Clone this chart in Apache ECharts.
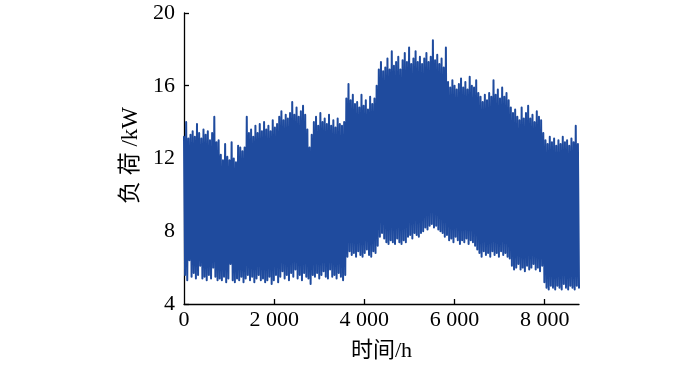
<!DOCTYPE html>
<html>
<head>
<meta charset="utf-8">
<script src="https://cdn.jsdelivr.net/npm/echarts@6/dist/echarts.min.js"></script>
<style>
html,body{margin:0;padding:0;background:#fff;}
#chart{width:700px;height:367px;}
</style>
</head>
<body>
<div id="chart"></div>
<script>
// Hour spacing between successive daily-peak readings (peak at 48*i h, trough at 48*i+24 h)
var hourStep = 48;
// Upper envelope (peak loads, kW)
var highs = [
13.2,14.0,13.1,13.3,13.5,13.2,13.9,13.4,13.1,13.6,
13.3,13.5,13.0,13.4,14.3,12.9,13.0,12.2,11.9,12.8,
12.1,11.9,12.9,12.0,11.8,12.7,12.6,12.4,12.6,14.3,
13.4,13.6,13.2,13.8,13.4,13.9,13.5,14.0,13.6,13.8,
13.5,14.1,13.7,13.9,14.3,14.6,14.1,14.4,14.2,14.5,
15.1,14.4,14.8,14.3,14.6,14.9,14.4,13.6,12.6,13.3,
14.0,14.3,13.8,14.5,14.0,14.2,13.9,14.4,13.8,14.1,
13.7,14.2,13.9,13.8,14.0,15.3,16.1,15.2,15.5,15.0,
15.1,14.8,15.5,14.9,15.2,14.7,15.4,15.0,15.3,16.0,
16.9,17.3,16.8,17.0,17.5,16.9,17.9,17.1,17.3,17.6,
16.9,17.4,17.8,17.3,18.1,17.2,17.5,17.9,17.3,17.6,
17.2,17.5,17.8,17.3,17.6,18.5,17.4,17.7,17.2,17.5,
17.0,18.1,16.2,15.9,16.3,16.0,15.8,16.1,16.4,15.9,
16.2,15.8,16.5,16.0,15.9,16.3,15.6,15.4,15.1,15.5,
15.2,15.6,15.4,16.3,15.5,15.8,15.3,15.9,15.4,15.6,
15.2,14.8,14.5,14.7,14.3,14.1,14.8,14.2,14.5,14.9,
14.2,14.4,14.0,14.6,14.3,14.1,13.4,13.0,12.8,13.2,
12.9,13.1,12.7,13.0,12.8,13.2,12.9,13.0,12.7,13.1,
12.9,13.8,12.8
];
// Lower envelope (trough loads, kW)
var lows = [
5.6,5.3,6.4,5.5,5.7,5.4,5.6,6.1,5.4,5.5,
5.3,5.6,5.4,6.0,5.5,5.3,5.4,5.3,5.5,5.2,
5.4,6.2,5.3,5.2,5.4,5.3,5.5,5.2,5.4,5.6,
5.3,5.5,5.2,5.4,5.6,5.3,5.4,5.2,5.3,5.5,
5.1,5.3,5.6,5.2,5.5,5.8,5.4,5.6,5.3,5.7,
5.5,5.9,5.4,5.6,5.3,5.7,5.5,5.4,5.1,5.6,
5.5,5.7,5.4,5.6,5.8,5.5,5.4,5.9,5.5,5.6,
5.4,5.7,5.5,5.3,5.6,6.6,6.9,6.7,6.8,6.6,
6.9,6.7,6.6,6.8,7.0,6.7,6.6,6.9,6.8,7.2,
7.7,7.9,7.6,7.4,7.3,7.5,7.4,7.3,7.6,7.4,
7.3,7.5,7.4,7.7,7.8,7.6,7.9,7.8,7.7,7.9,
8.0,8.2,8.1,8.3,8.4,8.2,8.3,8.1,8.0,7.9,
7.7,7.8,7.5,7.6,7.4,7.7,7.5,7.3,7.5,7.4,
7.6,7.3,7.5,7.4,7.2,7.0,6.8,6.6,6.9,6.7,
6.8,6.6,6.9,6.7,6.8,6.6,6.9,6.7,6.8,6.6,
6.5,6.1,5.9,6.0,6.2,5.9,6.0,5.8,6.1,5.9,
6.0,6.2,5.9,6.0,5.8,6.1,5.2,4.9,4.8,5.0,
4.9,4.8,5.0,4.9,4.8,5.1,4.9,4.8,5.0,4.9,
4.8,5.0,4.9
];
var xTicks = [0, 2000, 4000, 6000, 8000];
var yTicks = [4, 8, 12, 16, 20];

var data = [];
for (var i = 0; i < highs.length; i++) {
  data.push([hourStep * i, highs[i]]);
  data.push([hourStep * i + hourStep / 2, lows[i]]);
}

var serif = '"Liberation Serif","Times New Roman",serif';
var cjk = '"Liberation Serif","Noto Sans CJK SC",serif';

var chart = echarts.init(document.getElementById('chart'), null, {renderer: 'canvas'});
chart.setOption({
  animation: false,
  backgroundColor: '#fff',
  grid: {left: 184, right: 121, top: 13, bottom: 61, containLabel: false},
  xAxis: {
    type: 'value', min: 0, max: 8760, interval: 2000,
    name: '时间/h', nameLocation: 'middle', nameGap: 36,
    nameTextStyle: {fontFamily: cjk, fontSize: 22, color: '#000'},
    axisLine: {show: true, lineStyle: {color: '#000', width: 1.3}},
    axisTick: {show: true, inside: true, length: 5, customValues: xTicks.slice(1), lineStyle: {color: '#000', width: 1.3}},
    axisLabel: {customValues: xTicks, fontFamily: serif, fontSize: 22, color: '#000', margin: 5,
      formatter: function (v) { return v >= 1000 ? String(v).replace(/(\d)(\d{3})$/, '$1 $2') : String(v); }},
    splitLine: {show: false}
  },
  yAxis: {
    type: 'value', min: 4, max: 20, interval: 4,
    name: '负 荷 /kW', nameLocation: 'middle', nameGap: 41, nameRotate: 90,
    nameTextStyle: {fontFamily: cjk, fontSize: 23, color: '#000', padding: [0, 0, 0, 6]},
    axisLine: {show: true, lineStyle: {color: '#000', width: 1.3}},
    axisTick: {show: true, inside: true, length: 5, customValues: yTicks, lineStyle: {color: '#000', width: 1.3}},
    axisLabel: {customValues: yTicks, fontFamily: serif, fontSize: 22, color: '#000', margin: 9},
    splitLine: {show: false}
  },
  series: [{
    type: 'line', data: data, showSymbol: false, symbol: 'none',
    sampling: null, silent: true, z: 1,
    lineStyle: {color: '#1f4b9e', width: 2.0, join: 'round', cap: 'round'}
  }]
});
</script>
</body>
</html>
